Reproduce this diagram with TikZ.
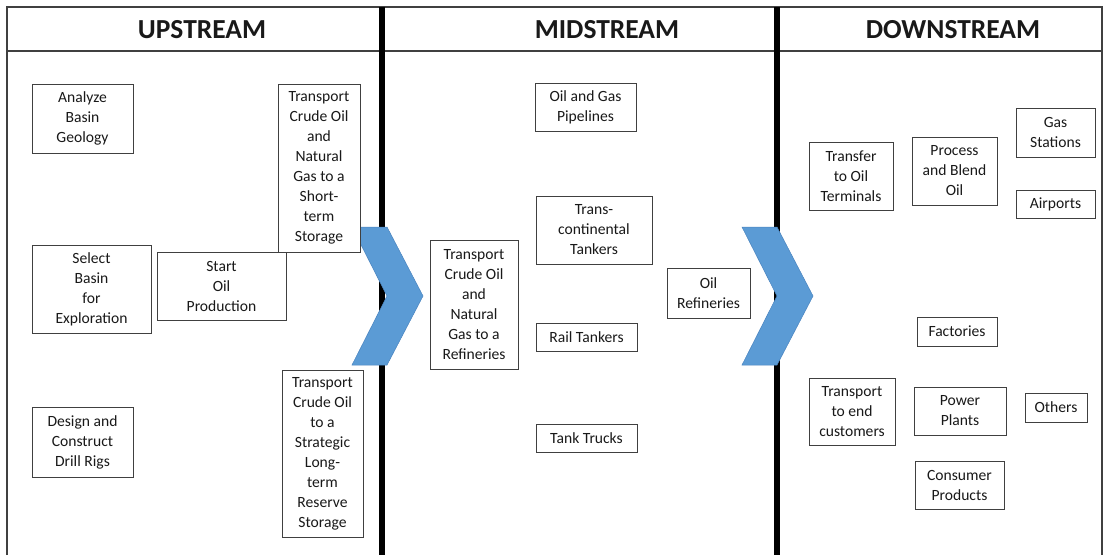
\documentclass[tikz,border=0pt]{standalone}
\usepackage{fontspec}
\setmainfont{Carlito}
\definecolor{chevblue}{HTML}{5B9BD5}
\definecolor{chevedge}{HTML}{4A84BF}
\definecolor{framegray}{HTML}{404040}
\begin{document}
\begin{tikzpicture}[x=1pt,y=-1pt,
  box/.style={draw=framegray, line width=0.9pt, fill=white, align=center, inner sep=0pt,
    text=black!90, font=\fontsize{15.6}{20}\selectfont},
  head/.style={font=\bfseries\fontsize{27.5}{30}\selectfont, text=black!90},
  frameline/.style={draw=framegray, line width=1.3pt},
  thickline/.style={draw=black, line width=6pt},
  chev/.style={fill=chevblue, draw=chevedge, line width=0.5pt}]
\useasboundingbox (0,0) rectangle (1106,555);
% frame
\draw[frameline] (7,555) -- (7,7) -- (1102,7) -- (1102,555);
\draw[frameline] (7,51) -- (1102,51);
\draw[thickline] (382,7) -- (382,555);
\draw[thickline] (777,7) -- (777,555);
% headers
\node[head] (hup) at (202,30) {UPSTREAM};
\node[head] (hmid) at (607,30) {MIDSTREAM};
\node[head] (hdown) at (953,30) {DOWNSTREAM};
% chevrons
\draw[chev] (352,227) -- (387,227) -- (423,296) -- (387,365) -- (352,365) -- (387,296) -- cycle;
\draw[chev] (742,227) -- (777,227) -- (813,296) -- (777,365) -- (742,365) -- (777,296) -- cycle;
% upstream
\node[box, minimum width=101, minimum height=69] (analyze) at (82.5,118.5) {Analyze\\Basin\\Geology};
\node[box, minimum width=119, minimum height=88] (select) at (91.5,289) {Select\\Basin\\for\\Exploration};
\node[box, minimum width=101, minimum height=70] (design) at (82.5,442) {Design and\\Construct\\Drill Rigs};
\node[box, minimum width=82, minimum height=168] (tshort) at (319,168) {Transport\\Crude Oil\\and\\Natural\\Gas to a\\Short-\\term\\Storage};
\node[box, minimum width=129, minimum height=68] (start) at (221.5,286) {Start\\Oil\\Production};
\node[box, minimum width=81, minimum height=167] (tstrat) at (322.5,453.5) {Transport\\Crude Oil\\to a\\Strategic\\Long-\\term\\Reserve\\Storage};
% midstream
\node[box, minimum width=101, minimum height=48] (pipe) at (585.5,107) {Oil and Gas\\Pipelines};
\node[box, minimum width=116, minimum height=68] (trans) at (594,230) {Trans-\\continental\\Tankers};
\node[box, minimum width=101, minimum height=28] (rail) at (586.5,337) {Rail Tankers};
\node[box, minimum width=101, minimum height=28] (truck) at (586.5,438) {Tank Trucks};
\node[box, minimum width=88, minimum height=129] (tref) at (474,304.5) {Transport\\Crude Oil\\and\\Natural\\Gas to a\\Refineries};
\node[box, minimum width=83, minimum height=50] (refin) at (708.5,293) {Oil\\Refineries};
% downstream
\node[box, minimum width=84, minimum height=68] (transfer) at (851,176) {Transfer\\to Oil\\Terminals};
\node[box, minimum width=85, minimum height=68] (process) at (954.5,171) {Process\\and Blend\\Oil};
\node[box, minimum width=79, minimum height=49] (gas) at (1055.5,132.5) {Gas\\Stations};
\node[box, minimum width=79, minimum height=28] (air) at (1055.5,204) {Airports};
\node[box, minimum width=80, minimum height=29] (fact) at (957,331.5) {Factories};
\node[box, minimum width=86, minimum height=67] (tend) at (852,411.5) {Transport\\to end\\customers};
\node[box, minimum width=92, minimum height=48] (power) at (960,411) {Power\\Plants};
\node[box, minimum width=62, minimum height=29] (others) at (1056,407.5) {Others};
\node[box, minimum width=89, minimum height=48] (consumer) at (959.5,485) {Consumer\\Products};
\end{tikzpicture}
\end{document}
